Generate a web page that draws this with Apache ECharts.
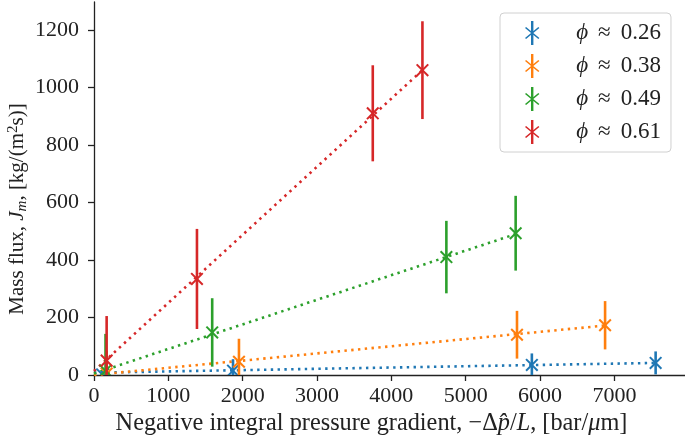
<!DOCTYPE html>
<html>
<head>
<meta charset="utf-8">
<script src="https://cdn.jsdelivr.net/npm/echarts@6/dist/echarts.min.js"></script>
<style>html,body{margin:0;padding:0;background:#fff}#c{width:685px;height:440px}</style>
</head>
<body>
<div id="c"></div>
<script>
// ---- data ----
const groupNames = ['ϕ ≈ 0.26', 'ϕ ≈ 0.38', 'ϕ ≈ 0.49', 'ϕ ≈ 0.61'];
const colors = ['#1f77b4', '#ff7f0e', '#2ca02c', '#d62728'];

const x026 = [110, 1870, 5890, 7555];
const y026 = [2, 15, 35, 42];
const e026 = [12, 40, 40, 40];

const x038 = [170, 1950, 5690, 6875];
const y038 = [5, 46, 140, 173];
const e038 = [80, 80, 83, 84];

const x049 = [155, 1590, 4740, 5672];
const y049 = [15, 148, 410, 493];
const e049 = [128, 119, 126, 130];

const x061 = [170, 1385, 3750, 4418];
const y061 = [50, 334, 910, 1060];
const e061 = [155, 174, 167, 170];

// fitted dotted lines (endpoints)
const fit026X = [0, 7555], fit026Y = [8, 42];
const fit038X = [0, 6875], fit038Y = [0, 172];
const fit049X = [0, 5672], fit049Y = [5, 490];
const fit061X = [0, 4418], fit061Y = [14, 1060];

const xTicks = [0, 1000, 2000, 3000, 4000, 5000, 6000, 7000];
const yTicks = [0, 200, 400, 600, 800, 1000, 1200];

const xTitle = '{t|Negative integral pressure gradient, −Δ}{i|p̂}{t|/}{i|L}{t|, [bar/}{i|μ}{t|m]}';
const yTitle = '{t|Mass flux, }{i|J}{sub|m}{t|, [kg/(m}{sup|2}{t|s)]}';

// ---- build ----
const groups = [
  [x026, y026, e026, fit026X, fit026Y],
  [x038, y038, e038, fit038X, fit038Y],
  [x049, y049, e049, fit049X, fit049Y],
  [x061, y061, e061, fit061X, fit061Y]
];

const legendIcon = 'path://M9,0L11,0L11,20L9,20Z M4,5.9L4.9,5L16,14.1L15.1,15Z M15.1,5L16,5.9L4.9,15L4,14.1Z';
const font = 'Liberation Serif';

const series = [];
groups.forEach((g, i) => {
  const [xs, ys, es, fx, fy] = g;
  series.push({
    name: groupNames[i],
    type: 'line',
    data: fx.map((v, k) => [v, fy[k]]),
    showSymbol: false,
    symbol: 'none',
    silent: true,
    z: 2,
    lineStyle: { color: colors[i], width: 2.6, type: [2.4, 4.4], cap: 'butt' },
    itemStyle: { color: colors[i] }
  });
});
groups.forEach((g, i) => {
  const [xs, ys, es] = g;
  series.push({
    name: groupNames[i],
    type: 'custom',
    clip: true,
    z: 3,
    itemStyle: { color: colors[i] },
    data: xs.map((v, k) => [v, ys[k], es[k]]),
    renderItem: function (params, api) {
      const x = api.value(0), y = api.value(1), e = api.value(2);
      const c = api.coord([x, y]);
      const t = api.coord([x, y + e]);
      const b = api.coord([x, y - e]);
      const s = 5.8;
      const col = colors[i];
      return {
        type: 'group',
        children: [
          { type: 'line', shape: { x1: c[0], y1: t[1], x2: c[0], y2: b[1] }, style: { stroke: col, lineWidth: 2.6 } },
          { type: 'line', shape: { x1: c[0] - s, y1: c[1] - s, x2: c[0] + s, y2: c[1] + s }, style: { stroke: col, lineWidth: 2 } },
          { type: 'line', shape: { x1: c[0] - s, y1: c[1] + s, x2: c[0] + s, y2: c[1] - s }, style: { stroke: col, lineWidth: 2 } }
        ]
      };
    }
  });
});

const chart = echarts.init(document.getElementById('c'), null, { renderer: 'canvas' });
chart.setOption({
  animation: false,
  backgroundColor: '#fff',
  grid: { left: 94, right: 0, top: 2, bottom: 65, containLabel: false, outerBoundsMode: 'none' },
  graphic: [{
    type: 'text',
    x: 17.5,
    y: 209,
    rotation: Math.PI / 2,
    silent: true,
    style: {
      text: yTitle,
      font: '21px "Liberation Serif"',
      align: 'center',
      verticalAlign: 'middle',
      fill: '#222',
      rich: {
        t: { font: '21px "Liberation Serif"', fill: '#222', lineHeight: 24, verticalAlign: 'middle' },
        i: { font: 'italic 21px "Liberation Serif"', fill: '#222', lineHeight: 24, verticalAlign: 'middle' },
        sub: { font: 'italic 15px "Liberation Serif"', fill: '#222', lineHeight: 13, verticalAlign: 'bottom' },
        sup: { font: '15px "Liberation Serif"', fill: '#222', lineHeight: 13, verticalAlign: 'top' }
      }
    }
  }],
  xAxis: {
    type: 'value',
    min: 0,
    max: 7950,
    splitLine: { show: false },
    axisLine: { show: true, onZero: false, lineStyle: { color: '#222', width: 1.3 } },
    axisTick: { show: true, length: 6, customValues: xTicks, lineStyle: { color: '#222', width: 1.3 } },
    axisLabel: { customValues: xTicks, formatter: v => String(v), margin: 10, color: '#222', fontFamily: font, fontSize: 22 },
    name: xTitle,
    nameLocation: 'middle',
    nameGap: 36,
    nameTextStyle: {
      padding: [0, 36, 0, 0],
      rich: {
        t: { fontFamily: font, fontSize: 24.3, color: '#222' },
        i: { fontFamily: font, fontSize: 24.3, color: '#222', fontStyle: 'italic' }
      }
    }
  },
  yAxis: {
    type: 'value',
    min: 0,
    max: 1297,
    splitLine: { show: false },
    axisLine: { show: true, onZero: false, lineStyle: { color: '#222', width: 1.3 } },
    axisTick: { show: true, length: 6, customValues: yTicks, lineStyle: { color: '#222', width: 1.3 } },
    axisLabel: { customValues: yTicks, formatter: v => String(v), margin: 15, color: '#222', fontFamily: font, fontSize: 22 }
  },
  legend: {
    orient: 'vertical',
    left: 500,
    top: 13,
    padding: [8, 10, 8, 25],
    itemWidth: 24,
    itemHeight: 24,
    itemGap: 9,
    backgroundColor: 'rgba(255,255,255,0.85)',
    borderColor: '#d0d0d0',
    borderWidth: 1,
    borderRadius: 4,
    data: groupNames.map((n, i) => ({ name: n, icon: legendIcon, itemStyle: { color: colors[i] } })),
    formatter: function (name) { return '{i|ϕ}{a|≈}{t|' + name.slice(4) + '}'; },
    textStyle: {
      padding: [0, 0, 0, 27],
      lineHeight: 24,
      rich: {
        t: { fontFamily: font, fontSize: 23, color: '#222', lineHeight: 24 },
        a: { fontFamily: font, fontSize: 23, color: '#222', lineHeight: 24, padding: [0, 10, 0, 10] },
        i: { fontFamily: font, fontSize: 23, color: '#222', fontStyle: 'italic', lineHeight: 24 }
      }
    }
  },
  series: series
});
</script>
</body>
</html>
